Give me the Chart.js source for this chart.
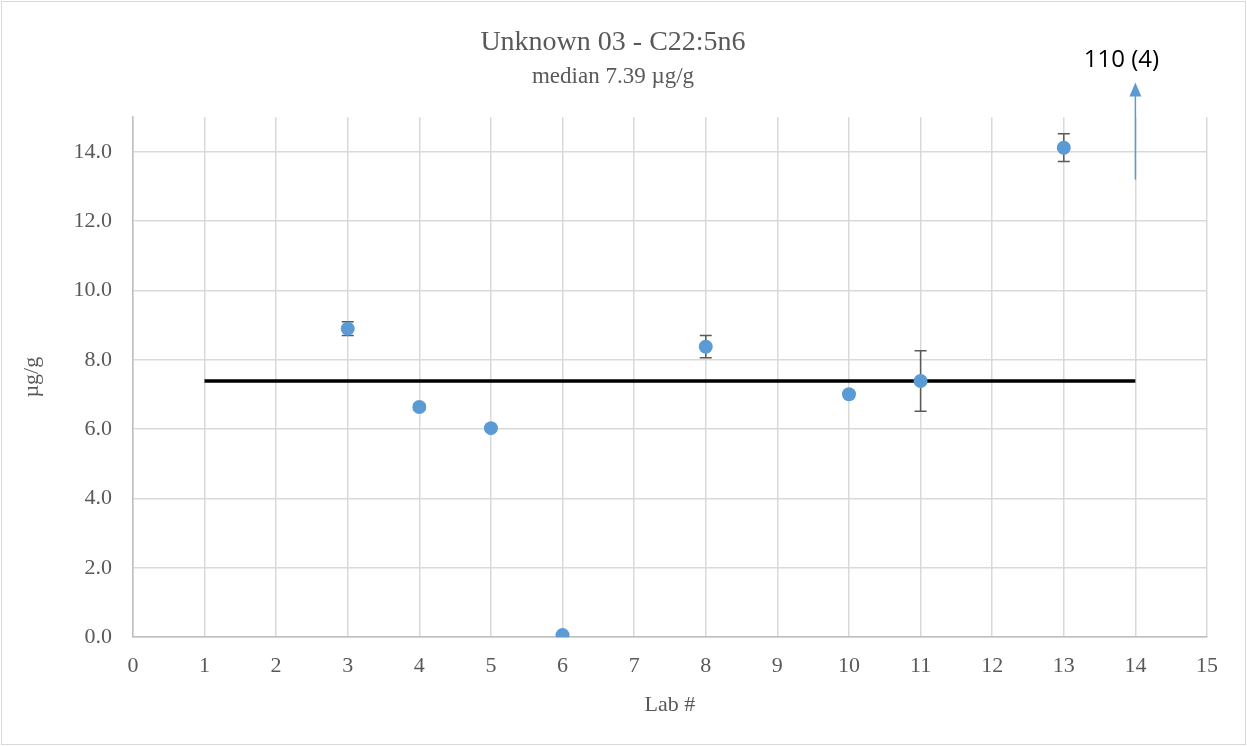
<!DOCTYPE html>
<html>
<head>
<meta charset="utf-8">
<script src="https://cdn.jsdelivr.net/npm/chart.js@4"></script>
<style>
    body { margin: 0; background: #fff; }
    #wrap { position: absolute; left: 1px; top: 1px; width: 1243px; height: 742px; border: 1px solid #d9d9d9; }
</style>
</head>
<body>
<div id="wrap"><canvas id="myChart" width="1243" height="742"></canvas></div>
<script>
const labs = [3, 4, 5, 6, 8, 10, 11, 13];
const values = [8.90, 6.64, 6.03, 0.06, 8.38, 7.01, 7.39, 14.12];
const errors = [0.20, 0.08, 0.05, 0.03, 0.32, 0.08, 0.87, 0.40];
const median = 7.39;
const medianRange = [1, 14];
const outlierLab = 14;
const outlierFrom = 13.2;
const outlierTo = 16.0;
const outlierLabel = '110 (4)';
const yTicks = [0, 2, 4, 6, 8, 10, 12, 14];

const points = labs.map((x, i) => ({ x: x, y: values[i] }));

// error bars go behind the markers
const errorBars = {
    id: 'errorBars',
    beforeDatasetsDraw(chart) {
        const ctx = chart.ctx;
        const xs = chart.scales.x;
        const ys = chart.scales.y;
        ctx.save();
        ctx.strokeStyle = '#595959';
        ctx.lineWidth = 1.5;
        labs.forEach((x, i) => {
            const px = xs.getPixelForValue(x);
            const top = ys.getPixelForValue(values[i] + errors[i]);
            const bot = ys.getPixelForValue(values[i] - errors[i]);
            ctx.beginPath();
            ctx.moveTo(px, top); ctx.lineTo(px, bot);
            ctx.moveTo(px - 6, top); ctx.lineTo(px + 6, top);
            ctx.moveTo(px - 6, bot); ctx.lineTo(px + 6, bot);
            ctx.stroke();
        });
        ctx.restore();
    },
    afterDatasetsDraw(chart) {
        const ctx = chart.ctx;
        const xs = chart.scales.x;
        const ys = chart.scales.y;
        const ax = xs.getPixelForValue(outlierLab);
        const a0 = ys.getPixelForValue(outlierFrom);
        const a1 = ys.getPixelForValue(outlierTo);
        ctx.save();
        ctx.strokeStyle = '#5B9BD5';
        ctx.fillStyle = '#5B9BD5';
        ctx.lineWidth = 1.5;
        ctx.beginPath();
        ctx.moveTo(ax, a0); ctx.lineTo(ax, a1 + 8);
        ctx.stroke();
        ctx.beginPath();
        ctx.moveTo(ax, a1); ctx.lineTo(ax - 6, a1 + 14); ctx.lineTo(ax + 6, a1 + 14);
        ctx.closePath();
        ctx.fill();
        ctx.fillStyle = '#000';
        ctx.font = '24px "Open Sans", sans-serif';
        ctx.textAlign = 'center';
        ctx.textBaseline = 'middle';
        ctx.fillText(outlierLabel, ax - 14, a1 - 22);
        ctx.restore();
    }
};

const data = {
    datasets: [{
        label: 'Results',
        data: points,
        backgroundColor: '#5B9BD5',
        borderColor: '#5B9BD5',
        borderWidth: 0,
        pointRadius: 7,
        showLine: false,
        order: 1,
    }, {
        label: 'Median',
        data: medianRange.map(x => ({ x: x, y: median })),
        borderColor: '#000',
        borderWidth: 3.5,
        pointRadius: 0,
        showLine: true,
        order: 2,
    }]
};

const config = {
    type: 'scatter',
    data: data,
    options: {
        responsive: false,
        animation: false,
        layout: { padding: { left: 17, right: 38, top: 0, bottom: 22 } },
        plugins: {
            legend: { display: false },
            tooltip: { enabled: false },
            title: {
                display: true,
                text: 'Unknown 03 - C22:5n6',
                color: '#595959',
                font: { family: '"Liberation Serif"', size: 28, weight: 'normal' },
                padding: { top: 24, bottom: 4 },
            },
            subtitle: {
                display: true,
                text: 'median 7.39 µg/g',
                color: '#595959',
                font: { family: '"Liberation Serif"', size: 23, weight: 'normal' },
                padding: { top: 0, bottom: 26 },
            }
        },
        scales: {
            x: {
                type: 'linear',
                min: 0,
                max: 15,
                ticks: { stepSize: 1, color: '#595959', font: { family: '"Liberation Serif"', size: 22 }, padding: 16 },
                grid: { color: '#d9d9d9', lineWidth: 1.5, drawTicks: false },
                border: { color: '#bfbfbf', width: 1.5 },
                title: { display: true, text: 'Lab #', color: '#595959', font: { family: '"Liberation Serif"', size: 22 }, padding: { top: -4, bottom: 4 } },
            },
            y: {
                min: 0,
                max: 15,
                afterBuildTicks: (scale) => { scale.ticks = yTicks.map(v => ({ value: v })); },
                ticks: { color: '#595959', font: { family: '"Liberation Serif"', size: 22 }, padding: 21, callback: v => v.toFixed(1) },
                grid: { color: '#d9d9d9', lineWidth: 1.5, drawTicks: false },
                border: { color: '#bfbfbf', width: 1.5 },
                title: { display: true, text: 'µg/g', color: '#595959', font: { family: '"Liberation Serif"', size: 22 }, padding: { top: 0, bottom: 7 } },
            }
        }
    },
    plugins: [errorBars],
};

const myChart = new Chart(document.getElementById('myChart'), config);
</script>
</body>
</html>
